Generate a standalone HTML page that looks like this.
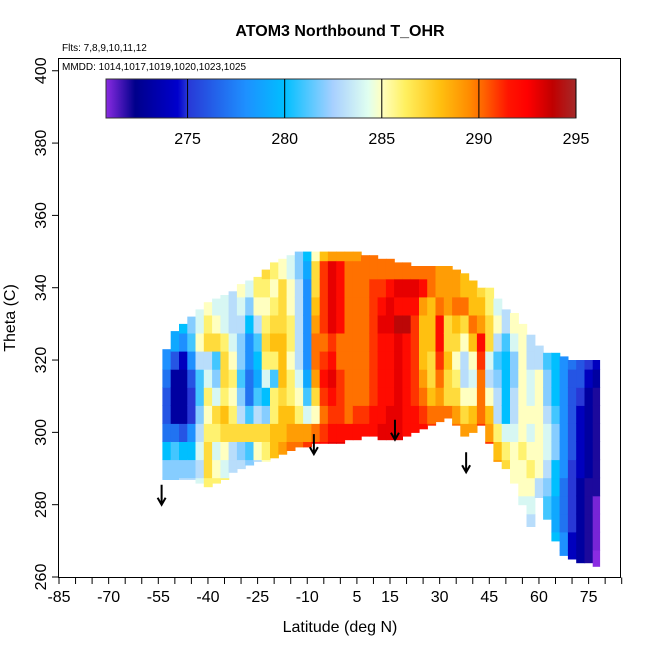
<!DOCTYPE html>
<html><head><meta charset="utf-8">
<style>
html,body{margin:0;padding:0;background:#fff;}
svg text{font-family:"Liberation Sans",sans-serif;}
</style></head>
<body>
<svg id="chart" width="650" height="650" xmlns="http://www.w3.org/2000/svg">
<defs>
<linearGradient id="cbar" x1="0" x2="1" y1="0" y2="0"></linearGradient>
</defs>
<text x="340" y="36" text-anchor="middle" font-size="16" font-weight="bold">ATOM3 Northbound T_OHR</text>
<text x="62" y="51" font-size="10">Flts: 7,8,9,10,11,12</text>
<g id="heat"></g>
<g id="arrows"></g>
<rect x="58.5" y="58.5" width="562" height="519" fill="none" stroke="#000" stroke-width="1"/>
<text x="62" y="70" font-size="10">MMDD: 1014,1017,1019,1020,1023,1025</text>
<g id="colorbar"></g>
<g id="xaxis"></g>
<g id="yaxis"></g>
<text x="340" y="632" text-anchor="middle" font-size="16">Latitude (deg N)</text>
<text transform="translate(15,318) rotate(-90)" text-anchor="middle" font-size="16">Theta (C)</text>
</svg>
<script>
const colLat=[-52.5,-50,-47.5,-45,-42.5,-40,-37.5,-35,-32.5,-30,-27.5,-25,-22.5,-20,-17.5,-15,-12.5,-10,-7.5,-5,-2.5,0,2.5,5,7.5,10,12.5,15,17.5,20,22.5,25,27.5,30,32.5,35,37.5,40,42.5,45,47.5,50,52.5,55,57.5,60,62.5,65,67.5,70,72.5,75,77.5];
const colBottom=[287,287,287,287,286,285,286,287,289,290,291,292,292,293,294,295,296,296,297,297,297,297,298,298,299,299,298,298,298,299,300,301,302,303,304,302,299,300,302,297,292,290,286,280,274,282,276,270,266,265,264,264,263];
const colTop=[323,328,330,332,334,336,337,338,339,341,342,343,345,347,348,349,350,350,350,350,350,350,350,350,349,349,348,348,347,347,346,346,346,346,346,345,344,342,340,340,337,334,333,330,327,324,322,322,321,320,320,320,320];
const colStart=[285,285,285,285,285,285,285,285,290,290,290,290,290,290,295,295,295,295,295,295,295,295,295,300,300,300,300,300,300,300,300,300,300,305,305,300,300,300,300,295,290,290,285,280,275,280,275,270,265,265,265,265,265];
const colVals=[
[282,282,280,277,276,276,277,278],
[282,282,281,277,273,273,273,276,279],
[283,282,280,276,273,273,273,274,278,280],
[283,282,280,278,275,275,276,278,281,282],
[284,283,284,283,282,281,281,283,285,284],
[286,287,287,286,285,286,284,283,287,286,285],
[286,285,284,286,287,284,282,281,287,285,284],
[286,284,285,287,288,286,287,287,286,284,284],
[283,283,287,286,285,286,285,284,283,283],
[283,282,287,283,282,281,282,282,283,284,285],
[282,281,287,281,277,277,278,278,280,282,284],
[283,285,287,283,281,279,280,281,283,285,286],
[285,286,287,282,280,284,286,287,286,285,286,287],
[289,288,288,286,286,281,286,288,287,286,285,286],
[289,288,288,287,288,288,288,287,287,287,285],
[290,289,288,286,286,285,286,286,285,285,284],
[290,289,286,285,284,283,283,283,283,283,282,282],
[291,289,284,281,279,278,278,278,278,278,279,280],
[292,290,285,287,289,290,290,289,288,287,287,285],
[292,291,290,291,292,291,290,291,291,291,291,288],
[293,292,291,292,293,292,291,293,293,293,293,289],
[293,292,291,291,291,290,290,292,292,292,292,289],
[292,292,290,290,290,290,290,290,290,290,290,289],
[292,291,290,290,290,290,290,290,290,290,289],
[292,291,290,290,290,290,290,290,290,290],
[292,292,291,291,291,291,291,291,291,290],
[293,292,292,292,292,292,293,292,291,290],
[293,293,292,292,292,292,293,293,292,290],
[293,293,293,293,293,293,294,292,293,290],
[292,292,292,292,292,292,294,292,293,290],
[292,292,291,291,291,291,291,292,293,290],
[292,291,290,289,288,288,288,289,292,290],
[291,290,288,287,287,288,288,288,290,290],
[290,289,290,291,292,292,290,289,289],
[290,287,287,288,287,287,289,289,289],
[290,289,287,286,285,287,288,290,289,289],
[289,287,285,283,283,285,287,290,288],
[289,288,285,284,285,288,290,288,288],
[291,290,290,290,291,292,289,288,287],
[291,289,288,285,283,284,287,287,286],
[289,288,286,283,283,282,281,283,285,284],
[287,286,284,280,280,280,280,281,283],
[285,285,285,284,283,283,282,282,284,285],
[284,285,285,286,285,285,285,285,285,285],
[283,284,285,286,285,284,285,284,284,283,283],
[283,283,285,285,285,285,285,285,283],
[281,281,282,283,284,284,283,282,282,281],
[280,279,279,280,280,282,282,281,280,280,280],
[278,278,277,277,277,278,278,278,278,278,278,278],
[274,274,275,275,275,275,276,276,276,276,276,277],
[273,273,273,273,273,274,274,274,274,275,276,276],
[272,272,272,272,272,273,273,273,273,273,274,275],
[270,271,271,271,272,272,272,272,272,272,273,274]
];
const arrowLat=[-54,-8,16.5,38];
const arrowTheta=[285.5,299.5,303.5,294.5];
const xTickLabels=[-85,-70,-55,-40,-25,-10,5,15,30,45,60,75];
const yTickLabels=[260,280,300,320,340,360,380,400];
const cbarTicks=[275,280,285,290,295];
const cStops=[[270.8,'#8a2be2'],[272.3,'#00008b'],[274.5,'#0000cd'],[275,'#2838d6'],[278,'#1e90ff'],[280,'#00bfff'],[282.5,'#a8d0ff'],[284.3,'#e0fff0'],[285,'#ffffc0'],[286.2,'#fff060'],[288,'#ffc010'],[289.5,'#ff8c00'],[290.3,'#ff6000'],[291.5,'#ff1500'],[292.5,'#ff0000'],[293.8,'#c00000'],[295,'#a52a2a']];

const NS='http://www.w3.org/2000/svg';
const X=lat=>59+(lat+85)*3.31;
const Y=t=>577-(t-260)*3.616;
function hex(h){return[1,3,5].map(i=>parseInt(h.substr(i,2),16));}
function color(v){
  if(v<=cStops[0][0])return cStops[0][1];
  for(let i=1;i<cStops.length;i++){
    if(v<=cStops[i][0]){const a=cStops[i-1],b=cStops[i];const f=(v-a[0])/(b[0]-a[0]);
      const ca=hex(a[1]),cb=hex(b[1]);return 'rgb('+ca.map((c,k)=>Math.round(c+(cb[k]-c)*f)).join(',')+')';}
  }
  return cStops[cStops.length-1][1];
}
function mk(tag,attrs,parent){const e=document.createElementNS(NS,tag);for(const k in attrs)e.setAttribute(k,attrs[k]);parent.appendChild(e);return e;}

const heat=document.getElementById('heat');
colLat.forEach((lat,i)=>{
  const vals=colVals[i];const x0=X(lat-1.25),x1=Math.min(X(lat+1.25),599.5);
  vals.forEach((v,j)=>{
    const t=colStart[i]+5*j;
    let lo=j===0?colBottom[i]:Math.max(t-2.5,colBottom[i]);
    let hi=j===vals.length-1?colTop[i]:Math.min(t+2.5,colTop[i]);
    if(hi<=lo)return;
    const r=mk('rect',{x:x0.toFixed(1),y:Y(hi).toFixed(1),width:(x1-x0+0.6).toFixed(1),height:(Y(lo)-Y(hi)+0.6).toFixed(1),fill:color(v)},heat);
    
    
  });
});

const arr=document.getElementById('arrows');
arrowLat.forEach((lat,i)=>{
  const x=X(lat),y0=Y(arrowTheta[i]),y1=y0+20;
  const g=mk('path',{d:`M${x},${y0}V${y1}M${x-4},${y1-7}L${x},${y1}L${x+4},${y1-7}`,stroke:'#000','stroke-width':2,fill:'none'},arr);
  
  
});

// colorbar
const cb=document.getElementById('colorbar');
const grad=document.getElementById('cbar');
const cbX=v=>106+(v-270.8)*(470/24.2);
cStops.forEach(s=>{mk('stop',{offset:((s[0]-270.8)/24.2).toFixed(4),'stop-color':s[1]},grad);});
const cr=mk('rect',{x:106,y:79,width:470,height:39,fill:'url(#cbar)',stroke:'#333','stroke-width':1},cb);


cbarTicks.forEach(v=>{
  const l=mk('line',{x1:cbX(v),x2:cbX(v),y1:79,y2:118,stroke:'#000','stroke-width':1},cb);
  
  
  const t=mk('text',{x:cbX(v),y:144,'text-anchor':'middle','font-size':16},cb);t.textContent=v;
  
  
});

// x axis
const xa=document.getElementById('xaxis');
for(let lat=-85;lat<=85;lat+=5){
  const l=mk('line',{x1:X(lat),x2:X(lat),y1:577.5,y2:584,stroke:'#000','stroke-width':1},xa);
  
  
}
xTickLabels.forEach(v=>{
  const t=mk('text',{x:X(v),y:602,'text-anchor':'middle','font-size':16},xa);t.textContent=v;
  
  
});
// y axis
const ya=document.getElementById('yaxis');
yTickLabels.forEach(v=>{
  const l=mk('line',{x1:52,x2:58.5,y1:Y(v),y2:Y(v),stroke:'#000','stroke-width':1},ya);
  
  
  const t=mk('text',{transform:`translate(46,${Y(v)}) rotate(-90)`,'text-anchor':'middle','font-size':16},ya);t.textContent=v;
  
  
});
</script>
</body></html>
